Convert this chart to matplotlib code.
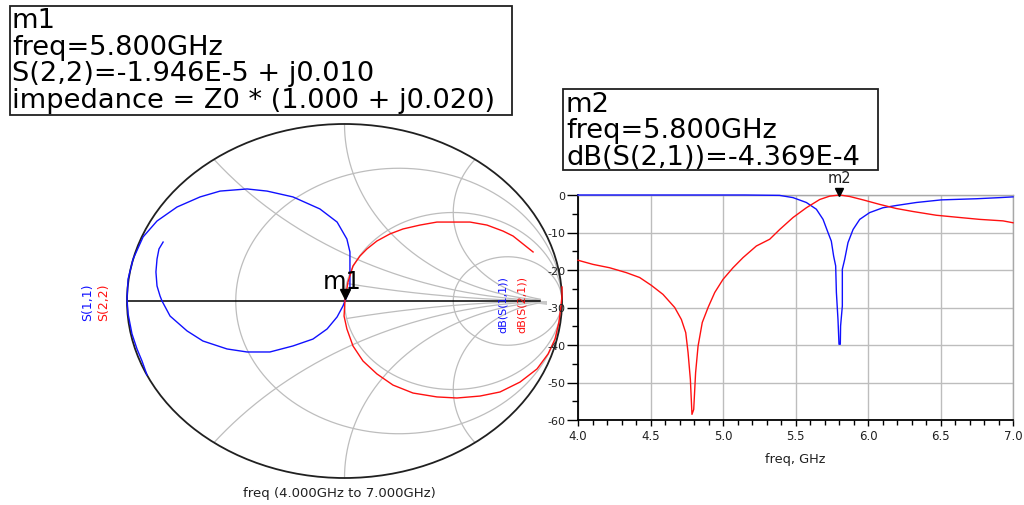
import numpy as np
import matplotlib
matplotlib.use("Agg")
import matplotlib.pyplot as plt
from matplotlib.patches import Rectangle, Ellipse

W, H = 1024, 506

# ---- Smith chart traces (reflection coefficient) ----
s11_re = [-0.834, -0.853, -0.862, -0.867, -0.862, -0.848, -0.839,
          -0.802, -0.724, -0.651, -0.540, -0.448, -0.343, -0.237, -0.145,
          -0.080, -0.034, -0.007, 0.002,
          0.025, 0.025, 0.025, 0.011, -0.034, -0.113, -0.237, -0.356, -0.448,
          -0.572, -0.664, -0.770, -0.862, -0.926, -0.972, -0.995, -1.000,
          -0.995, -0.977, -0.954, -0.931, -0.908]
s11_im = [0.333, 0.294, 0.237, 0.164, 0.085, 0.028, 0.0,
          -0.085, -0.169, -0.226, -0.271, -0.288, -0.288, -0.254, -0.215,
          -0.158, -0.090, -0.028, 0.0,
          0.068, 0.181, 0.277, 0.350, 0.446, 0.520, 0.588, 0.621, 0.633,
          0.621, 0.588, 0.531, 0.452, 0.362, 0.237, 0.124, 0.011,
          -0.073, -0.186, -0.271, -0.339, -0.418]

s22_re = [1.000, 1.000, 0.995, 0.986, 0.968, 0.936, 0.885, 0.807, 0.715, 0.623,
          0.517, 0.425, 0.315, 0.223, 0.149, 0.085, 0.039, 0.011, -0.002, 0.002,
          0.016, 0.039, 0.071, 0.103, 0.149, 0.209, 0.269, 0.347, 0.425, 0.499,
          0.577, 0.655, 0.729, 0.775, 0.821, 0.867]
s22_im = [0.079, 0.028, -0.028, -0.119, -0.215, -0.299, -0.384, -0.458, -0.514, -0.537,
          -0.548, -0.542, -0.520, -0.475, -0.412, -0.339, -0.254, -0.158, -0.085, 0.0,
          0.107, 0.198, 0.254, 0.294, 0.339, 0.379, 0.407, 0.429, 0.446, 0.446,
          0.446, 0.429, 0.395, 0.367, 0.322, 0.277]

# ---- Rectangular plot traces ----
freq_s21 = [4.000, 4.103, 4.218, 4.333, 4.425, 4.506, 4.586, 4.667, 4.713, 4.743,
            4.759, 4.775, 4.786, 4.798, 4.811, 4.828, 4.857, 4.897, 4.943, 5.000,
            5.069, 5.138, 5.230, 5.322, 5.391, 5.483, 5.575, 5.667, 5.736, 5.805,
            5.874, 5.966, 6.080, 6.195, 6.310, 6.471, 6.632, 6.770, 6.931, 7.000]
db_s21 = [-17.4, -18.5, -19.4, -20.7, -22.0, -24.1, -26.5, -30.0, -33.2, -36.7,
          -42.0, -49.2, -58.5, -57.2, -47.4, -40.3, -34.0, -30.0, -26.0, -22.5,
          -19.4, -16.7, -13.6, -11.8, -9.2, -6.0, -3.4, -1.2, -0.3, 0.0,
          -0.4, -1.3, -2.5, -3.6, -4.4, -5.4, -6.0, -6.5, -6.9, -7.4]

freq_s11 = [4.000, 5.149, 5.390, 5.483, 5.575, 5.644, 5.690, 5.724, 5.747, 5.763,
            5.777, 5.782, 5.793, 5.800, 5.809, 5.811, 5.823, 5.823, 5.839, 5.862,
            5.897, 5.943, 6.011, 6.103, 6.195, 6.333, 6.506, 6.747, 6.908, 7.000]
db_s11 = [0.0, 0.0, -0.1, -0.7, -2.0, -3.8, -6.5, -10.0, -12.3, -16.3,
          -18.9, -26.0, -33.2, -39.8, -39.8, -34.9, -29.6, -19.8, -17.2, -12.7,
          -9.2, -6.5, -4.7, -3.4, -2.8, -2.0, -1.3, -1.0, -0.7, -0.5]

x_ticks = [4.0, 4.5, 5.0, 5.5, 6.0, 6.5, 7.0]
x_ticklabels = ["4.0", "4.5", "5.0", "5.5", "6.0", "6.5", "7.0"]
y_ticks = [0, -10, -20, -30, -40, -50, -60]
y_ticklabels = ["0", "-10", "-20", "-30", "-40", "-50", "-60"]

r_grid = [1/3, 1.0, 3.0]
x_grid = [0.5, 1.0, 2.0]
x_grid_partial = [0.2]

m1_lines = ["m1", "freq=5.800GHz", "S(2,2)=-1.946E-5 + j0.010",
            "impedance = Z0 * (1.000 + j0.020)"]
m2_lines = ["m2", "freq=5.800GHz", "dB(S(2,1))=-4.369E-4"]

BLUE = "#1010ff"
RED = "#ff1010"
GRID = "#bdbdbd"

fig = plt.figure(figsize=(W / 100, H / 100), dpi=100)
fig.patch.set_facecolor("white")


def fx(px):
    return px / W


def fy(py):
    return 1 - py / H


# ---------------- Smith chart ----------------
sm = fig.add_axes([fx(127), fy(479), (562 - 127) / W, (479 - 125) / H])
sm.set_xlim(-1, 1)
sm.set_ylim(-1, 1)
sm.axis("off")

t = np.linspace(0, 2 * np.pi, 2000)
for r in r_grid:
    u = r / (1 + r) + np.cos(t) / (1 + r)
    v = np.sin(t) / (1 + r)
    sm.plot(u, v, color=GRID, lw=0.9, clip_on=False, zorder=1)


def arc(xv, rmin=None):
    u = 1 + np.cos(t) / abs(xv)
    v = 1 / xv + np.sin(t) / abs(xv)
    mask = (u ** 2 + v ** 2 > 1.0) | (u > 0.9)
    if rmin is not None:
        g = u + 1j * v
        with np.errstate(divide="ignore", invalid="ignore"):
            z = (1 + g) / (1 - g)
        mask |= z.real < rmin
    u = np.where(mask, np.nan, u)
    v = np.where(mask, np.nan, v)
    return u, v


for xv in x_grid:
    for s in (1, -1):
        u, v = arc(s * xv)
        sm.plot(u, v, color=GRID, lw=0.9, clip_on=False, zorder=1)
for xv in x_grid_partial:
    for s in (1, -1):
        u, v = arc(s * xv, rmin=1.0)
        sm.plot(u, v, color=GRID, lw=0.9, clip_on=False, zorder=1)

sm.fill([0.80, 0.93, 0.93], [0.0, 0.0, -0.025], color="#c8c8c8", lw=0, zorder=1)
sm.plot([-1, 0.9], [0, 0], color="black", lw=1.1, zorder=2)
sm.add_patch(Ellipse((0, 0), 2, 2, fill=False, ec="#202020", lw=1.3,
                     clip_on=False, zorder=3))

sm.plot(s11_re, s11_im, color=BLUE, lw=1.0, clip_on=False, zorder=4)
sm.plot(s22_re, s22_im, color=RED, lw=1.0, clip_on=False, zorder=4)

sm.plot([0.0], [0.04], marker="v", color="black", ms=7, clip_on=False, zorder=5)
sm.text(-0.012, 0.075, "m1", ha="center", va="baseline", fontsize=17.5,
        color="black", zorder=5)

fig.text(fx(88), fy(302), "S(1,1)", rotation=90, ha="center", va="center",
         color=BLUE, fontsize=9)
fig.text(fx(104), fy(302), "S(2,2)", rotation=90, ha="center", va="center",
         color=RED, fontsize=9)
fig.text(fx(339), fy(494), "freq (4.000GHz to 7.000GHz)", ha="center",
         va="center", fontsize=9.5, color="#202020")

# ---------------- Rectangular plot ----------------
ax = fig.add_axes([fx(578), fy(421), (1013 - 578) / W, (421 - 196) / H])
ax.set_xlim(4, 7)
ax.set_ylim(-60, 0)
ax.plot(freq_s11, db_s11, color=BLUE, lw=1.0, clip_on=False, zorder=3)
ax.plot(freq_s21, db_s21, color=RED, lw=1.0, clip_on=False, zorder=3)

ax.set_xticks(x_ticks)
ax.set_xticklabels(x_ticklabels)
ax.set_yticks(y_ticks)
ax.set_yticklabels(y_ticklabels)
ax.set_xticks(np.arange(40, 71) / 10, minor=True)
ax.set_yticks(np.arange(-60, 1, 5), minor=True)
ax.grid(True, which="major", color=GRID, lw=1.0)
ax.tick_params(axis="y", which="major", length=8, width=1.0, pad=1,
               labelsize=8, labelcolor="#202020")
ax.tick_params(axis="y", which="minor", length=4.5, width=1.0)
ax.tick_params(axis="x", which="major", length=4.5, width=1.0, pad=2,
               labelsize=8.5, labelcolor="#202020")
ax.tick_params(axis="x", which="minor", length=3.5, width=1.0)
for side in ("left", "bottom"):
    ax.spines[side].set_color("black")
    ax.spines[side].set_linewidth(1.3)
for side in ("top", "right"):
    ax.spines[side].set_color("#a8a8a8")
    ax.spines[side].set_linewidth(1.0)

ax.plot([5.8], [0.9], marker="v", color="black", ms=6, clip_on=False, zorder=5)
ax.text(5.8, 3.5, "m2", ha="center", va="baseline", fontsize=10.5, color="#202020")

fig.text(fx(795), fy(460), "freq, GHz", ha="center", va="center", fontsize=9.3,
         color="#202020")
fig.text(fx(503), fy(305), "dB(S(1,1))", rotation=90, ha="center", va="center",
         color=BLUE, fontsize=8)
fig.text(fx(522), fy(305), "dB(S(2,1))", rotation=90, ha="center", va="center",
         color=RED, fontsize=8)

# ---------------- Marker readout boxes ----------------
fig.patches.append(Rectangle((fx(10), fy(116)), (512 - 10) / W, (116 - 7) / H,
                             transform=fig.transFigure, facecolor="white",
                             edgecolor="#202020", lw=1.3, zorder=6))
for i, line in enumerate(m1_lines):
    fig.text(fx(12), fy(28 + 26.7 * i), line, ha="left", va="baseline",
             fontsize=19.6, color="black", zorder=7)

fig.patches.append(Rectangle((fx(563), fy(171)), (878 - 563) / W, (171 - 90) / H,
                             transform=fig.transFigure, facecolor="white",
                             edgecolor="#202020", lw=1.3, zorder=6))
for i, line in enumerate(m2_lines):
    fig.text(fx(566), fy(112 + 26.5 * i), line, ha="left", va="baseline",
             fontsize=19.6, color="black", zorder=7)

fig.savefig("out.png", dpi=100, facecolor="white")
